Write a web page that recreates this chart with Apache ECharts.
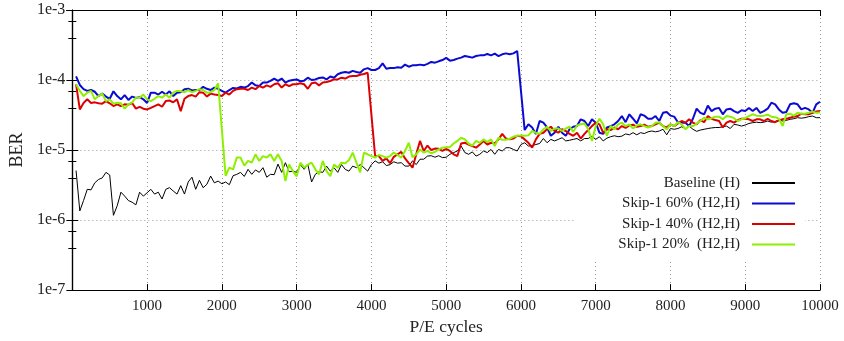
<!DOCTYPE html>
<html>
<head>
<meta charset="utf-8">
<title>BER vs P/E cycles</title>
<script src="https://cdn.jsdelivr.net/npm/echarts@6/dist/echarts.min.js"></script>
<style>
  html, body { margin: 0; padding: 0; background: #fff; }
  #chart { width: 844px; height: 341px; }
</style>
</head>
<body>
<div id="chart"></div>
<script>
// P/E cycle sample grid: one sample every 50 cycles, 50 .. 10000
const CYCLE_STEP = 50;
const CYCLES = Array.from({ length: 200 }, (_, i) => (i + 1) * CYCLE_STEP);

const X_TICKS = [1000, 2000, 3000, 4000, 5000, 6000, 7000, 8000, 9000, 10000];
const Y_TICKS = ['1e-7', '1e-6', '1e-5', '1e-4', '1e-3'];

const SERIES_NAMES = ['Baseline (H)', 'Skip-1 60% (H2,H)', 'Skip-1 40% (H2,H)', 'Skip-1 20%  (H2,H)'];
const SERIES_COLORS = ['#000000', '#0a0ad2', '#dc0000', '#8cf000'];

// BER per sample (null = no sample at that point)
const baseline = [
  5.1e-6, 1.35e-6, 1.9e-6, 2.75e-6, 2.7e-6, 3.4e-6, 3.8e-6, 4.0e-6, 4.8e-6, 4.4e-6,
  1.17e-6, 1.6e-6, 2.5e-6, 2.2e-6, 1.9e-6, 1.8e-6, 1.65e-6, 2.5e-6, 2.2e-6, 2.45e-6,
  2.75e-6, 2.35e-6, 2.5e-6, 2.0e-6, 2.75e-6, 2.9e-6, 2.6e-6, 2.35e-6, 3.1e-6, 2.35e-6,
  3.5e-6, 4.1e-6, 2.75e-6, 3.7e-6, 2.9e-6, 3.25e-6, 4.25e-6, 3.4e-6, 3.6e-6, 3.3e-6,
  3.5e-6, 3.2e-6, 4.3e-6, 4.5e-6, 4.8e-6, 4.2e-6, 5.3e-6, 4.5e-6, 5.2e-6, 4.8e-6,
  5.6e-6, 4.1e-6, 4.5e-6, 4.45e-6, 6.3e-6, 4.8e-6, 6.6e-6, 4.9e-6, 5.0e-6, 4.8e-6,
  6.2e-6, 5.3e-6, 6.2e-6, 3.5e-6, 4.5e-6, 4.9e-6, 4.8e-6, 5.9e-6, 5.0e-6, 5.6e-6,
  4.8e-6, 6.2e-6, 5.3e-6, 5.0e-6, 5.9e-6, 5.6e-6, 6.2e-6, 5.6e-6, 5.0e-6, 6.2e-6,
  7.0e-6, 6.5e-6, 6.8e-6, 6.0e-6, 6.2e-6, 6.8e-6, 6.5e-6, 6.6e-6, 5.9e-6, 5.9e-6,
  7.0e-6, 6.2e-6, 7.4e-6, 7.4e-6, 8.2e-6, 8.3e-6, 7.9e-6, 8.3e-6, 7.8e-6, 7.9e-6,
  8.7e-6, 9.2e-6, 9.7e-6, 1.14e-5, 9.2e-6, 8.7e-6, 9.4e-6, 8.2e-6, 8.7e-6, 9.7e-6,
  9.2e-6, 1.02e-5, 8.7e-6, 1.02e-5, 9.7e-6, 1.08e-5, 1.08e-5, 1.02e-5, 9.7e-6, 1.2e-5,
  1.27e-5, 1.14e-5, 1.16e-5, 1.2e-5, 1.24e-5, 1.46e-5, 1.27e-5, 1.42e-5, 1.35e-5, 1.42e-5,
  1.5e-5, 1.35e-5, 1.38e-5, 1.42e-5, 1.46e-5, 1.35e-5, 1.46e-5, 1.46e-5, 1.58e-5, 1.42e-5,
  1.55e-5, 1.35e-5, 1.48e-5, 1.55e-5, 1.6e-5, 1.55e-5, 1.58e-5, 1.7e-5, 1.65e-5, 1.77e-5,
  1.65e-5, 1.77e-5, 1.72e-5, 1.82e-5, 1.87e-5, 1.82e-5, 1.87e-5, 1.98e-5, 1.65e-5, 2.03e-5,
  1.98e-5, 2.03e-5, 2.15e-5, 2.03e-5, 2.2e-5, 1.98e-5, 1.85e-5, 1.93e-5, 1.98e-5, 2.03e-5,
  2.07e-5, 2.1e-5, 2.1e-5, 2.15e-5, 2.2e-5, 2.03e-5, 2.33e-5, 2.28e-5, 2.2e-5, 2.28e-5,
  2.4e-5, 2.46e-5, 2.5e-5, 2.46e-5, 2.5e-5, 2.6e-5, 2.5e-5, 2.56e-5, 2.68e-5, 2.6e-5,
  2.65e-5, 2.75e-5, 2.8e-5, 2.9e-5, 2.85e-5, 2.9e-5, 3.0e-5, 3.06e-5, 2.9e-5, 2.9e-5
];

const skip60 = [
  1.13e-4, 8.5e-5, 7.4e-5, 7.0e-5, 7.2e-5, 6.8e-5, 5.9e-5, 6.4e-5, 5.8e-5, 5.4e-5,
  6.9e-5, 5.9e-5, 5.3e-5, 6.1e-5, 5.2e-5, 5.8e-5, 5.55e-5, 5.7e-5, 5.3e-5, 4.7e-5,
  6.6e-5, 6.6e-5, 6.2e-5, 6.8e-5, 6.2e-5, 6.9e-5, 5.9e-5, 6.6e-5, 6.7e-5, 7.4e-5,
  7.5e-5, 7.1e-5, 7.2e-5, 7.2e-5, 8.0e-5, 7.5e-5, 7.2e-5, 7.8e-5, 7.5e-5, 7.0e-5,
  6.6e-5, 7.2e-5, 7.7e-5, 7.6e-5, 8.0e-5, 7.8e-5, 8.2e-5, 9.2e-5, 8.4e-5, 8.2e-5,
  9.2e-5, 9.2e-5, 9.7e-5, 1.05e-4, 9.7e-5, 1.05e-4, 9.2e-5, 9.8e-5, 1.0e-4, 1.02e-4,
  9.6e-5, 9.8e-5, 1.08e-4, 1.0e-4, 1.02e-4, 1.07e-4, 1.09e-4, 1.02e-4, 1.12e-4, 1.08e-4,
  1.21e-4, 1.27e-4, 1.3e-4, 1.27e-4, 1.35e-4, 1.3e-4, 1.27e-4, 1.42e-4, 1.48e-4, 1.39e-4,
  1.39e-4, 1.48e-4, 1.73e-4, 1.45e-4, 1.48e-4, 1.48e-4, 1.52e-4, 1.5e-4, 1.66e-4, 1.55e-4,
  1.62e-4, 1.62e-4, 1.66e-4, 1.62e-4, 1.7e-4, 1.81e-4, 1.77e-4, 1.85e-4, 1.93e-4, 2.07e-4,
  1.89e-4, 1.93e-4, 2.02e-4, 2.09e-4, 2.2e-4, 2.15e-4, 2.09e-4, 2.2e-4, 2.25e-4, 2.25e-4,
  2.35e-4, 2.25e-4, 2.38e-4, 2.2e-4, 2.33e-4, 2.4e-4, 2.33e-4, 2.4e-4, 2.6e-4, null,
  1.93e-5, 2.33e-5, 2.1e-5, 1.7e-5, 2.6e-5, 2.46e-5, 2.1e-5, 1.6e-5, 1.77e-5, 2.15e-5,
  1.77e-5, 1.6e-5, 1.98e-5, 2.15e-5, 2.2e-5, 2.75e-5, 2.6e-5, 2.2e-5, 2.75e-5, 2.46e-5,
  1.77e-5, 1.7e-5, 2.1e-5, 2.2e-5, 2.33e-5, 2.6e-5, 3.06e-5, 2.5e-5, 3.24e-5, 2.8e-5,
  2.4e-5, 3.24e-5, 3.1e-5, 2.8e-5, 2.8e-5, 3.06e-5, 2.6e-5, 3.4e-5, 3.5e-5, 3.1e-5,
  3.0e-5, 2.5e-5, 2.46e-5, 2.46e-5, 2.2e-5, 2.8e-5, 3.9e-5, 3.4e-5, 3.24e-5, 4.3e-5,
  3.6e-5, 3.9e-5, 4.0e-5, 3.24e-5, 3.8e-5, 3.9e-5, 3.6e-5, 3.4e-5, 3.7e-5, 3.6e-5,
  4.0e-5, 3.6e-5, 4.0e-5, 3.4e-5, 3.6e-5, 3.9e-5, 4.75e-5, 4.5e-5, 3.8e-5, 3.4e-5,
  3.5e-5, 4.5e-5, 4.65e-5, 4.5e-5, 3.8e-5, 4.0e-5, 3.8e-5, 3.4e-5, 4.5e-5, 4.9e-5
];

const skip40 = [
  8.7e-5, 3.8e-5, 4.7e-5, 5.3e-5, 4.7e-5, 4.8e-5, 4.65e-5, 4.6e-5, 5.0e-5, 4.65e-5,
  4.25e-5, 4.5e-5, 4.25e-5, 4.5e-5, 4.45e-5, 4.7e-5, 3.9e-5, 4.15e-5, 3.9e-5, 3.8e-5,
  4.0e-5, 4.25e-5, 4.5e-5, 4.15e-5, 5.0e-5, 5.1e-5, 4.8e-5, 5.3e-5, 3.6e-5, 5.4e-5,
  5.9e-5, 6.1e-5, 5.8e-5, 6.7e-5, 6.6e-5, 5.8e-5, 6.4e-5, 6.2e-5, 6.1e-5, 5.9e-5,
  6.6e-5, 6.2e-5, 7.0e-5, 7.4e-5, 7.5e-5, 7.5e-5, 7.2e-5, 7.8e-5, 7.4e-5, 8.2e-5,
  7.8e-5, 8.4e-5, 8.0e-5, 8.7e-5, 9.0e-5, 7.8e-5, 8.7e-5, 8.2e-5, 8.7e-5, 8.7e-5,
  9.0e-5, 8.7e-5, 7.5e-5, 9.0e-5, 9.2e-5, 8.4e-5, 9.2e-5, 9.4e-5, 9.7e-5, 1.02e-4,
  1.02e-4, 1.08e-4, 1.05e-4, 1.12e-4, 1.14e-4, 1.14e-4, 1.19e-4, 1.22e-4, 1.27e-4, null,
  8.2e-6, 8.2e-6, 7.0e-6, 7.6e-6, 6.5e-6, 8.0e-6, 8.7e-6, 9.4e-6, 7.6e-6, 6.5e-6,
  5.6e-6, 8.7e-6, 1.35e-5, 9.7e-6, 1.16e-5, 1.0e-5, 1.05e-5, 1.04e-5, 9.7e-6, 1.04e-5,
  9.7e-6, 8.7e-6, 8.2e-6, 1.24e-5, 1.27e-5, 1.2e-5, 1.14e-5, 1.08e-5, 1.2e-5, 1.35e-5,
  1.2e-5, 1.27e-5, 1.24e-5, 1.42e-5, 1.7e-5, 1.46e-5, 1.42e-5, 1.46e-5, 1.6e-5, 1.57e-5,
  1.42e-5, 1.27e-5, 1.08e-5, 1.42e-5, 1.7e-5, 1.77e-5, 1.98e-5, 2.15e-5, 1.87e-5, 1.77e-5,
  1.98e-5, 1.87e-5, 1.7e-5, 1.6e-5, 1.77e-5, 1.46e-5, 1.7e-5, 1.93e-5, 2.2e-5, 2.46e-5,
  2.33e-5, 1.77e-5, 1.98e-5, 1.93e-5, 2.1e-5, 1.98e-5, 2.2e-5, 2.07e-5, 2.25e-5, 2.3e-5,
  2.15e-5, 2.2e-5, 2.3e-5, 2.15e-5, 2.2e-5, 2.33e-5, 2.46e-5, 2.2e-5, 2.1e-5, 2.33e-5,
  2.2e-5, 2.4e-5, 2.6e-5, 2.46e-5, 2.75e-5, 2.46e-5, 2.33e-5, 2.68e-5, 2.5e-5, 3.06e-5,
  2.8e-5, 2.68e-5, 2.6e-5, 2.1e-5, 2.46e-5, 2.6e-5, 2.46e-5, 2.68e-5, 2.8e-5, 2.8e-5,
  2.75e-5, 2.6e-5, 2.75e-5, 2.75e-5, 2.6e-5, 2.8e-5, 2.6e-5, 2.5e-5, 2.65e-5, 2.75e-5,
  2.8e-5, 2.9e-5, 3.0e-5, 3.06e-5, 3.3e-5, 3.25e-5, 3.25e-5, 3.4e-5, 3.55e-5, 3.6e-5
];

const skip20 = [
  8.7e-5, 7.0e-5, 5.9e-5, 6.6e-5, 7.0e-5, 5.3e-5, 5.9e-5, 6.4e-5, 5.0e-5, 5.3e-5,
  4.6e-5, 4.75e-5, 4.65e-5, 3.9e-5, 4.5e-5, 4.8e-5, 5.6e-5, 5.6e-5, 6.2e-5, 5.3e-5,
  5.0e-5, 5.4e-5, 5.9e-5, 5.6e-5, 6.2e-5, 5.6e-5, 6.6e-5, 7.0e-5, 6.9e-5, 6.7e-5,
  7.2e-5, 6.7e-5, 7.0e-5, 7.4e-5, 7.2e-5, 6.6e-5, 6.7e-5, 7.2e-5, 9.0e-5, null,
  4.3e-6, 5.6e-6, 5.3e-6, 7.8e-6, 7.8e-6, 6.0e-6, 7.0e-6, 6.6e-6, 8.7e-6, 7.0e-6,
  8.2e-6, 7.8e-6, 8.7e-6, 7.0e-6, 8.7e-6, 7.0e-6, 3.6e-6, 6.2e-6, 5.0e-6, 4.2e-6,
  6.6e-6, 5.6e-6, 6.2e-6, 6.6e-6, 5.3e-6, 4.5e-6, 7.0e-6, 5.0e-6, 4.25e-6, 6.2e-6,
  5.6e-6, 6.6e-6, 6.5e-6, 7.2e-6, 9.2e-6, 6.6e-6, 4.8e-6, 9.2e-6, 8.7e-6, 8.2e-6,
  7.8e-6, 8.5e-6, 8.2e-6, 7.8e-6, 8.2e-6, 9.2e-6, 8.5e-6, 7.8e-6, 9.7e-6, 1.27e-5,
  7.9e-6, 8.7e-6, 1.02e-5, 9.2e-6, 9.7e-6, 9.0e-6, 9.4e-6, 1.02e-5, 1.08e-5, 1.1e-5,
  1.1e-5, 1.24e-5, 1.35e-5, 1.5e-5, 1.42e-5, 1.24e-5, 1.16e-5, 1.35e-5, 1.27e-5, 1.42e-5,
  1.3e-5, 1.42e-5, 1.14e-5, 1.5e-5, 1.4e-5, 1.4e-5, 1.45e-5, 1.55e-5, 1.6e-5, 1.62e-5,
  1.6e-5, 1.62e-5, 1.87e-5, 1.77e-5, 1.7e-5, 1.98e-5, 2.15e-5, 1.87e-5, 2.03e-5, 2.03e-5,
  1.87e-5, 2.03e-5, 2.15e-5, 1.82e-5, 2.25e-5, 2.33e-5, 2.4e-5, 1.98e-5, 1.35e-5, 2.2e-5,
  2.8e-5, 2.33e-5, 1.6e-5, 2.2e-5, 1.98e-5, 2.33e-5, 2.46e-5, 2.2e-5, 2.33e-5, 2.03e-5,
  2.25e-5, 2.33e-5, 2.2e-5, 2.1e-5, 2.2e-5, 2.46e-5, 2.5e-5, 2.2e-5, 1.98e-5, 2.33e-5,
  2.2e-5, 2.5e-5, 2.33e-5, 1.98e-5, 2.2e-5, 2.2e-5, 2.38e-5, 2.6e-5, 2.9e-5, 2.75e-5,
  2.85e-5, 3.0e-5, 3.0e-5, 2.75e-5, 3.06e-5, 3.0e-5, 2.85e-5, 2.6e-5, 2.75e-5, 2.85e-5,
  3.06e-5, 3.24e-5, 3.1e-5, 3.06e-5, 3.1e-5, 3.2e-5, 3.0e-5, 2.95e-5, 2.8e-5, 2.2e-5,
  3.24e-5, 3.3e-5, 3.1e-5, 3.4e-5, 3.3e-5, 3.3e-5, 3.4e-5, 3.55e-5, 3.4e-5, 3.45e-5
];

const SERIES_VALUES = [baseline, skip60, skip40, skip20];
const LINE_WIDTHS = [1, 2, 2, 2];

const FONT = '"Liberation Serif", "DejaVu Serif", serif';
const TEXT = '#222';

// pair each BER with its cycle, dropping the points that have no sample
const toPoints = (values) =>
  CYCLES.map((c, i) => [c, values[i]]).filter((p) => p[1] != null);

const chart = echarts.init(document.getElementById('chart'), null, { renderer: 'canvas' });

const gridLine = { show: true, lineStyle: { color: '#9a9a9a', width: 1, type: [1, 3] } };
const frameLine = { show: true, lineStyle: { color: '#000', width: 1.2 } };

const option = {
  animation: false,
  backgroundColor: '#fff',
  grid: { left: 70, right: 24, top: 10, bottom: 49 },
  legend: {
    orient: 'vertical',
    align: 'right',
    right: 39,
    top: 153.5,
    padding: [22, 10, 10, 44],
    backgroundColor: '#fff',
    icon: 'rect',
    itemWidth: 43,
    itemHeight: 2,
    itemGap: 5.5,
    selectedMode: false,
    textStyle: { fontFamily: FONT, fontSize: 15, color: TEXT, padding: [0, 7, 0, 0] },
    data: SERIES_NAMES
  },
  xAxis: [
    {
      type: 'value',
      min: 0,
      max: 10000,
      interval: 1000,
      name: 'P/E cycles',
      nameLocation: 'middle',
      nameGap: 25,
      nameTextStyle: { fontFamily: FONT, fontSize: 17.5, color: TEXT },
      axisLine: frameLine,
      axisTick: { show: true, inside: true, length: 6, lineStyle: { color: '#000' } },
      axisLabel: {
        fontFamily: FONT,
        fontSize: 15,
        color: TEXT,
        margin: 8,
        formatter: (v) => (X_TICKS.includes(v) ? String(v) : '')
      },
      splitLine: gridLine
    },
    {
      type: 'value',
      position: 'top',
      min: 0,
      max: 10000,
      interval: 1000,
      axisLine: frameLine,
      axisTick: { show: true, inside: true, length: 6, lineStyle: { color: '#000' } },
      axisLabel: { show: false },
      splitLine: { show: false }
    }
  ],
  yAxis: [
    {
      type: 'log',
      logBase: 10,
      min: 1e-7,
      max: 1e-3,
      name: 'BER',
      nameLocation: 'middle',
      nameGap: 46,
      nameTextStyle: { fontFamily: FONT, fontSize: 18, color: TEXT },
      axisLine: frameLine,
      axisTick: { show: true, inside: true, length: 6, lineStyle: { color: '#000' } },
      minorTick: { show: true, splitNumber: 3, length: 4, lineStyle: { color: '#000' } },
      axisLabel: {
        fontFamily: FONT,
        fontSize: 16,
        color: TEXT,
        margin: 7,
        formatter: (v) => Y_TICKS[Math.round(Math.log10(v)) + 7] || ''
      },
      splitLine: gridLine
    },
    {
      type: 'log',
      logBase: 10,
      position: 'right',
      min: 1e-7,
      max: 1e-3,
      axisLine: frameLine,
      axisTick: { show: true, inside: true, length: 6, lineStyle: { color: '#000' } },
      minorTick: { show: true, splitNumber: 3, length: 4, lineStyle: { color: '#000' } },
      axisLabel: { show: false },
      splitLine: { show: false }
    }
  ],
  series: SERIES_NAMES.map((name, i) => ({
    name,
    type: 'line',
    xAxisIndex: 0,
    yAxisIndex: 0,
    symbol: 'none',
    data: toPoints(SERIES_VALUES[i]),
    itemStyle: { color: SERIES_COLORS[i] },
    lineStyle: { color: SERIES_COLORS[i], width: LINE_WIDTHS[i] },
    z: 2 + i
  }))
};

chart.setOption(option);
</script>
</body>
</html>
